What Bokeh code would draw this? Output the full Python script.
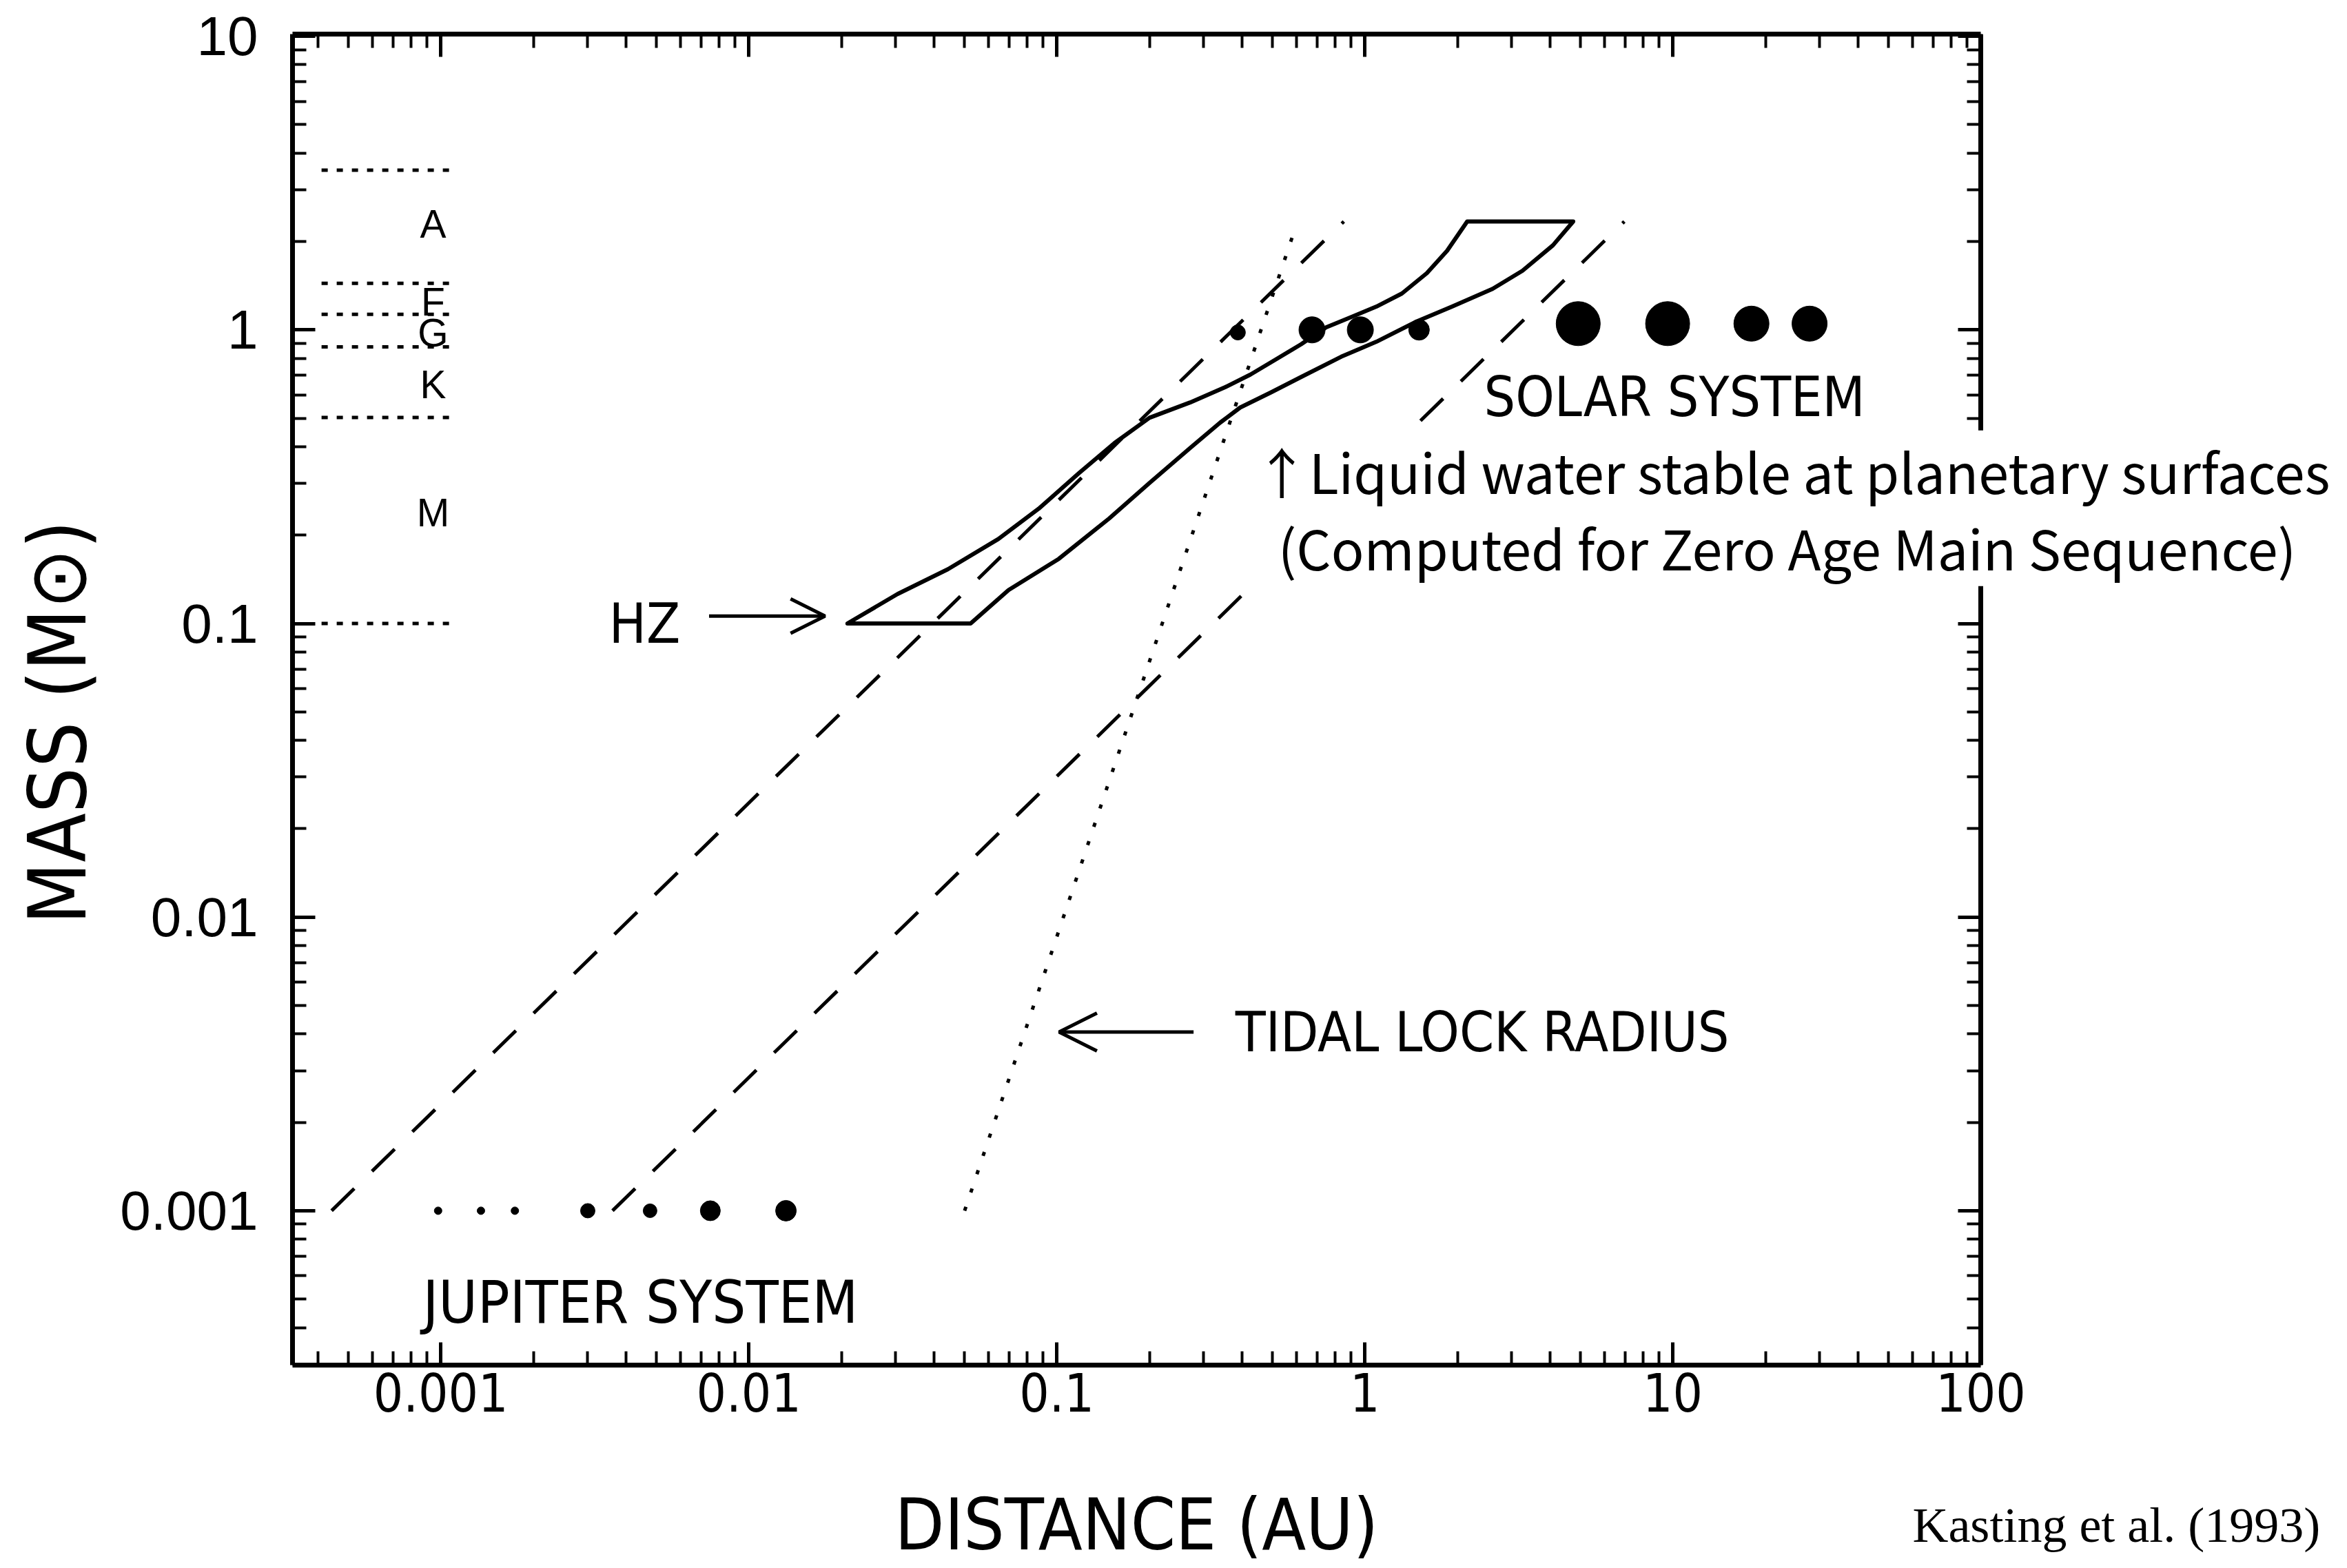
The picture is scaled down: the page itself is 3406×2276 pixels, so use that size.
from bokeh.plotting import figure
from bokeh.models import (LogAxis, FixedTicker, CustomJSTickFormatter, Label, Arrow, OpenHead)
from bokeh.embed import file_html
from bokeh.resources import INLINE

# ---------------- data ----------------
x_major_ticks = [0.001, 0.01, 0.1, 1, 10, 100]
y_major_ticks = [0.001, 0.01, 0.1, 1, 10]
x_axis_min, x_axis_max = 3.3e-4, 100          # the plotted box spans 3.3e-4 .. 100 AU
y_axis_min, y_axis_max = 2.98e-4, 10.17

spectral_types = ["A", "F", "G", "K", "M"]
spectral_bounds = [3.5, 1.44, 1.13, 0.875, 0.503, 0.1]
spectral_label_mass = [2.29, 1.25, 0.98, 0.652, 0.239]

# habitable zone (inner edge going up, outer edge coming down)
hz_inner_dist = [0.0209, 0.0304, 0.0443, 0.0646, 0.0873, 0.118, 0.154, 0.200, 0.271, 0.352,
                 0.425, 0.514, 0.621, 0.748, 0.903, 1.09, 1.32, 1.59, 1.85, 2.15]
hz_inner_mass = [0.100, 0.126, 0.153, 0.194, 0.246, 0.325, 0.412, 0.502, 0.566, 0.638,
                 0.704, 0.793, 0.893, 1.02, 1.106, 1.20, 1.33, 1.56, 1.86, 2.34]
hz_outer_dist = [4.75, 4.08, 3.25, 2.60, 1.92, 1.48, 1.09, 0.838, 0.621, 0.495, 0.394,
                 0.339, 0.271, 0.200, 0.148, 0.1015, 0.0697, 0.0525]
hz_outer_mass = [2.34, 1.94, 1.59, 1.38, 1.20, 1.07, 0.911, 0.810, 0.691, 0.612, 0.544,
                 0.483, 0.396, 0.301, 0.228, 0.166, 0.130, 0.100]

dashA_dist = [0.000442, 0.855]
dashA_mass = [0.001, 2.34]
dashB_dist = [0.00361, 6.96]
dashB_mass = [0.001, 2.34]
tidal_dist = [0.0502, 0.597]
tidal_mass = [0.001, 2.25]

planets = ["Mercury", "Venus", "Earth", "Mars", "Jupiter", "Saturn", "Uranus", "Neptune"]
planet_dist = [0.387, 0.674, 0.967, 1.50, 4.93, 9.62, 18.0, 27.8]
planet_mass = [0.98, 1.0, 1.0, 1.0, 1.05, 1.05, 1.05, 1.05]
planet_dot_px = [22, 38, 38, 30, 64, 64, 51, 51]

moons = ["Metis", "Amalthea", "Thebe", "Io", "Europa", "Ganymede", "Callisto"]
moon_dist = [0.00098, 0.00135, 0.00174, 0.00300, 0.00478, 0.00750, 0.0132]
moon_mass = [0.001, 0.001, 0.001, 0.001, 0.001, 0.001, 0.001]
moon_dot_px = [11, 11, 11, 21, 20, 29, 30]

# ---------------- styling ----------------
NARROW = "'DejaVu Sans Condensed', 'Liberation Sans Narrow', 'Liberation Sans', sans-serif"
SANS = "'Liberation Sans', Arial, sans-serif"
CJK = "'Noto Sans CJK JP', 'Noto Sans', sans-serif"
SERIF = "'Liberation Serif', serif"

# The plotting area reaches the right edge of the page (so that the overlaid
# caption is not clipped); the box itself is closed by an axis fixed at 100 AU.
p = figure(width=3406, height=2276, x_axis_type="log", y_axis_type="log",
           x_range=(x_axis_min, 1549.0), y_range=(y_axis_min, y_axis_max),
           output_backend="svg", toolbar_location=None,
           min_border_left=424, min_border_right=0, min_border_top=49, min_border_bottom=295)
p.title.visible = False
p.xgrid.visible = False
p.ygrid.visible = False
p.outline_line_color = None
p.background_fill_color = "white"
p.border_fill_color = "white"

x_minor = [m * 10.0 ** k for k in range(-4, 2) for m in range(2, 10)]
y_minor = [m * 10.0 ** k for k in range(-4, 1) for m in range(2, 10)]

num_fmt = "return Number(tick.toPrecision(1)).toString();"


def style_axis(ax, ticks, minor):
    ax.ticker = FixedTicker(ticks=ticks, minor_ticks=minor)
    ax.axis_line_width = 7
    ax.axis_line_color = "black"
    ax.major_tick_in = 33
    ax.major_tick_out = 0
    ax.minor_tick_in = 20
    ax.minor_tick_out = 0
    ax.major_tick_line_width = 5
    ax.minor_tick_line_width = 4
    ax.major_tick_line_color = "black"
    ax.minor_tick_line_color = "black"


xb = p.xaxis[0]
style_axis(xb, x_major_ticks, x_minor)
xb.bounds = (x_axis_min, x_axis_max)
xb.formatter = CustomJSTickFormatter(code=num_fmt)
xb.major_label_text_font = NARROW
xb.major_label_text_font_size = "76px"
xb.major_label_text_color = "black"
xb.major_label_standoff = 11

yl = p.yaxis[0]
style_axis(yl, y_major_ticks, y_minor)
yl.formatter = CustomJSTickFormatter(code=num_fmt)
yl.major_label_text_font = SANS
yl.major_label_text_font_size = "80px"
yl.major_label_text_color = "black"
yl.major_label_standoff = 50
yl.axis_label = "MASS (M\u2299)\u00a0\u00a0"
yl.axis_label_text_font = NARROW
yl.axis_label_text_font_size = "116px"
yl.axis_label_text_font_style = "normal"
yl.axis_label_text_color = "black"
yl.axis_label_standoff = 20

top_ax = LogAxis(formatter=CustomJSTickFormatter(code="return '';"),
                 major_label_text_font_size="0px", major_label_standoff=0)
style_axis(top_ax, x_major_ticks, x_minor)
top_ax.bounds = (x_axis_min, x_axis_max)
p.add_layout(top_ax, "above")

right_ax = LogAxis(formatter=CustomJSTickFormatter(code="return '';"),
                   major_label_text_font_size="0px", major_label_standoff=0,
                   fixed_location=x_axis_max)
style_axis(right_ax, y_major_ticks, y_minor)
p.add_layout(right_ax, "right")

# ---------------- glyphs ----------------
n_b = len(spectral_bounds)
p.segment(x0=[4.1e-4] * n_b, y0=spectral_bounds, x1=[1.07e-3] * n_b, y1=spectral_bounds,
          line_color="black", line_width=5, line_dash="9 13")

p.patch(hz_inner_dist + hz_outer_dist, hz_inner_mass + hz_outer_mass,
        fill_color=None, line_color="black", line_width=6, line_join="round")

p.line(dashA_dist, dashA_mass, line_color="black", line_width=5, line_dash="46 36")
p.line(dashB_dist, dashB_mass, line_color="black", line_width=5, line_dash="46 36")
p.line(tidal_dist, tidal_mass, line_color="black", line_width=5, line_dash="6 22")

p.scatter(planet_dist, planet_mass, size=planet_dot_px, marker="circle",
          fill_color="black", line_color="black")
p.scatter(moon_dist, moon_mass, size=moon_dot_px, marker="circle",
          fill_color="black", line_color="black")

# ---------------- annotations ----------------
for t, yy in zip(spectral_types, spectral_label_mass):
    p.add_layout(Label(x=0.000944, y=yy, text=t, text_align="center", text_baseline="middle",
                       text_font=SANS, text_font_size="57px", text_color="black"))

p.add_layout(Label(x=0.00459, y=0.1, text="HZ", text_align="center", text_baseline="middle",
                   text_font=NARROW, text_font_size="80px", text_color="black"))
p.add_layout(Arrow(x_start=0.00743, y_start=0.106, x_end=0.01768, y_end=0.106,
                   line_width=5, line_color="black",
                   end=OpenHead(size=50, line_width=5, line_color="black")))

p.add_layout(Label(x=0.380, y=0.00406, text="TIDAL LOCK RADIUS", text_align="left",
                   text_baseline="middle", text_font=NARROW, text_font_size="80px",
                   text_color="black"))
p.add_layout(Arrow(x_start=0.278, y_start=0.00406, x_end=0.1017, y_end=0.00406,
                   line_width=5, line_color="black",
                   end=OpenHead(size=55, line_width=5, line_color="black")))

p.add_layout(Label(x=2.436, y=0.589, text="SOLAR SYSTEM", text_align="left",
                   text_baseline="middle", text_font=NARROW, text_font_size="80px",
                   text_color="black"))
p.add_layout(Label(x=0.000874, y=0.000488, text="JUPITER SYSTEM", text_align="left",
                   text_baseline="middle", text_font=NARROW, text_font_size="86px",
                   text_color="black"))

# overlaid caption with its white box
p.add_layout(Label(x=0.370, y=0.333, text="\u2191Liquid water stable at planetary surfaces",
                   text_align="left", text_baseline="middle", text_font=CJK,
                   text_font_size="79px", text_color="black",
                   background_fill_color="white",
                   padding=dict(left=33, right=20, top=0, bottom=0)))
p.add_layout(Label(x=0.370, y=0.183, text="(Computed for Zero Age Main Sequence)",
                   text_align="left", text_baseline="middle", text_font=CJK,
                   text_font_size="79px", text_color="black",
                   background_fill_color="white",
                   padding=dict(left=67, right=20, top=0, bottom=0)))

# texts below the plotting area (placed in the lower panel so they are not clipped)
p.add_layout(Label(x=0.1816, y=8.51e-5, text="DISTANCE (AU)", text_align="center",
                   text_baseline="middle", text_font=NARROW, text_font_size="104px",
                   text_color="black"), "below")
p.add_layout(Label(x=60.0, y=8.47e-5, text="Kasting et al. (1993)", text_align="left",
                   text_baseline="middle", text_font=SERIF, text_font_size="72px",
                   text_color="black"), "below")

open("out.html", "w").write(file_html(p, INLINE))
